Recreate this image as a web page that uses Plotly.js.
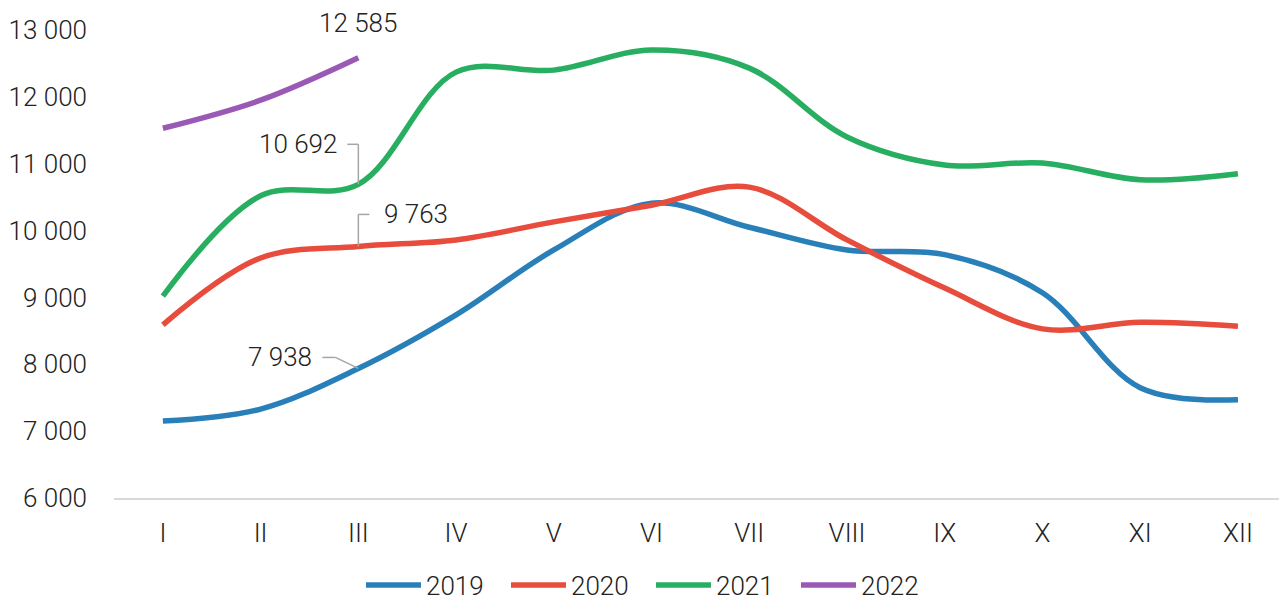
<!DOCTYPE html>
<html>
<head>
<meta charset="utf-8">
<script src="https://cdn.plot.ly/plotly-3.0.1.min.js"></script>
<style>html,body{margin:0;padding:0;background:#fff;}#chart{width:1279px;height:600px;}</style>
</head>
<body>
<div id="chart"></div>
<script>
const months = ["I","II","III","IV","V","VI","VII","VIII","IX","X","XI","XII"];
const y2019 = [7150, 7330, 7938, 8740, 9710, 10410, 10050, 9710, 9640, 9070, 7650, 7470];
const y2020 = [8590, 9590, 9763, 9860, 10130, 10380, 10650, 9860, 9140, 8530, 8630, 8570];
const y2021 = [9020, 10520, 10692, 12370, 12400, 12700, 12430, 11400, 10980, 11010, 10760, 10850];
const y2022 = [11530, 11950, 12585];
const seriesNames = ["2019","2020","2021","2022"];
const colors = ["#2980b9","#e74c3c","#27ae60","#9b59b6"];
const yTicks = [6000,7000,8000,9000,10000,11000,12000,13000];

const allY = [y2019, y2020, y2021, y2022];
const traces = allY.map((ys, i) => ({
  type: "scatter", mode: "lines",
  x: months.slice(0, ys.length), y: ys,
  name: seriesNames[i],
  line: {color: colors[i], width: 5.5, shape: "spline", smoothing: 1},
  hoverinfo: "skip"
}));

const fmt = v => String(v).replace(/\B(?=(\d{3})+(?!\d))/g, " ");
const font = {family: "Roboto, sans-serif", size: 26, color: "#222222", weight: 300};
const lc = {color: "#a6a6a6", width: 1.5};

const shapes = [
  {type:"line", xref:"x", yref:"y", xsizemode:"pixel", ysizemode:"pixel", xanchor:2, yanchor:y2021[2], x0:-11, x1:0, y0:40, y1:40, line:lc},
  {type:"line", xref:"x", yref:"y", xsizemode:"pixel", ysizemode:"pixel", xanchor:2, yanchor:y2021[2], x0:0, x1:0, y0:40, y1:0, line:lc},
  {type:"line", xref:"x", yref:"y", xsizemode:"pixel", ysizemode:"pixel", xanchor:2, yanchor:y2020[2], x0:0, x1:11, y0:32, y1:32, line:lc},
  {type:"line", xref:"x", yref:"y", xsizemode:"pixel", ysizemode:"pixel", xanchor:2, yanchor:y2020[2], x0:0, x1:0, y0:32, y1:0, line:lc},
  {type:"line", xref:"x", yref:"y", xsizemode:"pixel", ysizemode:"pixel", xanchor:2, yanchor:y2019[2], x0:-36, x1:-23, y0:11, y1:11, line:lc},
  {type:"line", xref:"x", yref:"y", xsizemode:"pixel", ysizemode:"pixel", xanchor:2, yanchor:y2019[2], x0:-23, x1:0, y0:11, y1:0, line:lc}
];

const annotations = [
  {x:"III", y:y2022[2], text:fmt(y2022[2]), showarrow:false, xanchor:"center", yanchor:"middle", yshift:35, font:font},
  {x:"III", y:y2021[2], text:fmt(y2021[2]), showarrow:false, xanchor:"right", yanchor:"middle", xshift:-19, yshift:40, font:font},
  {x:"III", y:y2020[2], text:fmt(y2020[2]), showarrow:false, xanchor:"left", yanchor:"middle", xshift:24, yshift:32, font:font},
  {x:"III", y:y2019[2], text:fmt(y2019[2]), showarrow:false, xanchor:"right", yanchor:"middle", xshift:-44, yshift:11, font:font}
];

const layout = {
  width: 1279, height: 600,
  margin: {l:114, r:0, t:30, b:102, autoexpand:false},
  paper_bgcolor: "#fff", plot_bgcolor: "#fff",
  separators: ", ",
  font: font,
  showlegend: true,
  legend: {orientation:"h", x:0.212, xanchor:"left", y:-0.186, yanchor:"middle", font:font, itemwidth:55, tracegroupgap:0, entrywidth:75},
  xaxis: {type:"category", range:[-0.5, 11.42], showgrid:false, zeroline:false, showline:true, linecolor:"#d9d9d9", linewidth:1.5, ticks:"", ticklabelstandoff:11, tickfont:font, fixedrange:true},
  yaxis: {range:[6000,13000], tickvals:yTicks, ticktext:yTicks.map(fmt), showgrid:false, zeroline:false, showline:false, ticks:"", ticklabelstandoff:26, tickfont:font, fixedrange:true},
  shapes: shapes,
  annotations: annotations
};

Plotly.newPlot("chart", traces, layout, {displayModeBar:false, staticPlot:true});
</script>
</body>
</html>
